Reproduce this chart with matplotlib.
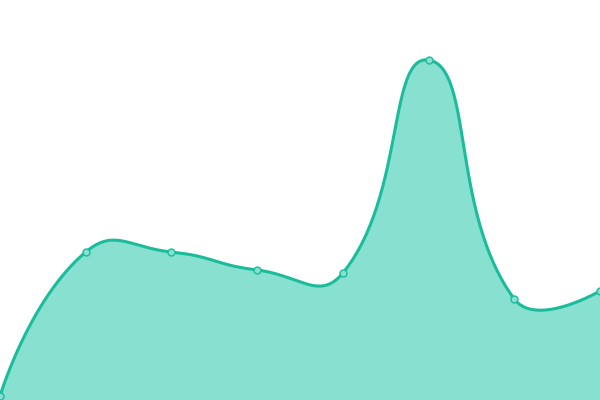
import numpy as np
import matplotlib
matplotlib.use("Agg")
import matplotlib.pyplot as plt

# categories and values
categories = ["1", "2", "3", "4", "5", "6", "7", "8"]
values = [4, 148, 148, 130, 127, 340, 101, 109]

line_color = "#1abc9c"
fill_color = "#88e0d0"

fig = plt.figure(figsize=(6, 4), dpi=100)
ax = fig.add_axes([0, 0, 1, 1])
ax.set_xlim(0, len(categories) - 1)
ax.set_ylim(0, 400)
ax.axis("off")

x = np.arange(len(categories))
pts = ax.transData.transform(np.column_stack([x, values]))


def smooth_path(p, smooth=0.5, n=60):
    # bezier smoothing in pixel space, echarts style
    cps = []
    for i in range(len(p)):
        if i == 0 or i == len(p) - 1:
            cps.append((p[i], p[i]))
            continue
        v = p[i + 1] - p[i - 1]
        l0 = np.hypot(*(p[i] - p[i - 1]))
        l1 = np.hypot(*(p[i + 1] - p[i]))
        r = l1 / (l0 + l1)
        cps.append((p[i] - v * smooth * (1 - r), p[i] + v * smooth * r))
    t = np.linspace(0, 1, n)[:, None]
    out = [p[0][None, :]]
    for i in range(len(p) - 1):
        a, b = p[i], cps[i][1]
        c, d = cps[i + 1][0], p[i + 1]
        seg = ((1 - t) ** 3) * a + 3 * ((1 - t) ** 2) * t * b + 3 * (1 - t) * t ** 2 * c + t ** 3 * d
        out.append(seg[1:])
    return np.vstack(out)


curve = ax.transData.inverted().transform(smooth_path(pts))
ax.fill_between(curve[:, 0], 0, curve[:, 1], color=fill_color, lw=0)
ax.plot(curve[:, 0], curve[:, 1], color=line_color, lw=2.2, solid_capstyle="round", clip_on=False)
ax.plot(x, values, "o", ms=5, mfc=fill_color, mec=line_color, mew=1.0, clip_on=True)

fig.savefig("out.png", dpi=100)
